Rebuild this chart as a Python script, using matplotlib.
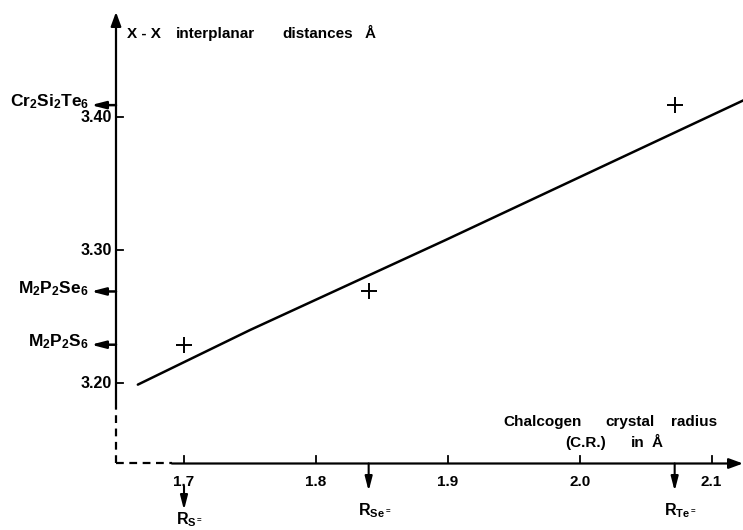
import matplotlib
matplotlib.use("Agg")
import matplotlib.pyplot as plt

# measured points: chalcogen crystal radius vs X-X interplanar distance
radius = [1.70, 1.840, 2.072]
distance = [3.229, 3.269, 3.409]
compounds = [r'$\mathregular{M_2P_2S_6}$', r'$\mathregular{M_2P_2Se_6}$', r'$\mathregular{Cr_2Si_2Te_6}$']
ions = [r'$\mathregular{R_{S^=}}$', r'$\mathregular{R_{Se^=}}$', r'$\mathregular{R_{Te^=}}$']

# fitted line
fit_x = [1.665, 1.75, 1.898, 2.026, 2.125]
fit_y = [3.199, 3.240, 3.3075, 3.367, 3.413]

xticks = [1.7, 1.8, 1.9, 2.0, 2.1]
yticks = [3.20, 3.30, 3.40]

ytitle = ['X - X', 'interplanar', 'distances', '\u00c5']
xtitle = ['Chalcogen', 'crystal', 'radius']
xtitle2 = ['(C.R.)', 'in', '\u00c5']

plt.rcParams['font.family'] = ['Liberation Sans', 'DejaVu Sans']
plt.rcParams['font.weight'] = 'bold'

fig = plt.figure(figsize=(7.43, 5.30), dpi=100)
ax = fig.add_axes([0, 0, 1, 1])
ax.axis('off')

# pixel -> data helpers (axes fill the figure)
def X(px):
    return 1.7 + (px - 184) / 1319.0

def Y(py):
    return 3.20 + (383.3 - py) / 1331.0

ax.set_xlim(X(0), X(743))
ax.set_ylim(Y(530), Y(0))

x0, y0 = X(116), Y(463.5)
lw = 1.6
head = '-|>,head_length=0.6,head_width=0.22'
small = '-|>,head_length=0.85,head_width=0.22'

# axes: dashed near origin, solid elsewhere, arrow heads
ax.plot([x0, x0], [y0, Y(407)], color='k', lw=lw, ls=(0, (3.5, 2.5)))
ax.plot([x0, X(172)], [y0, y0], color='k', lw=lw, ls=(0, (3.5, 2.5)))
ax.annotate('', xy=(x0, Y(12)), xytext=(x0, Y(407)),
            arrowprops=dict(arrowstyle=head, color='k', lw=lw, mutation_scale=14, shrinkA=0, shrinkB=0))
ax.annotate('', xy=(X(743), y0), xytext=(X(172), y0),
            arrowprops=dict(arrowstyle=head, color='k', lw=lw, mutation_scale=14, shrinkA=0, shrinkB=0))

# ticks
for t in xticks:
    ax.plot([t, t], [y0, y0 + 7 / 1331.0], color='k', lw=1.3)
    ax.text(t, Y(482), '%.1f' % t, ha='center', va='center', fontsize=11)
for t in yticks:
    ax.plot([x0, x0 + 7 / 1319.0], [t, t], color='k', lw=1.3)
    ax.text(X(112), t, '%.2f' % t, ha='right', va='center', fontsize=11.5)

# data and fit
ax.plot(fit_x, fit_y, color='k', lw=1.8, solid_capstyle='round')
ax.plot(radius, distance, ls='none', marker='+', ms=11, mew=1.4, color='k')

# compound arrows on y axis
for d, name in zip(distance, compounds):
    ax.annotate('', xy=(X(91), d), xytext=(x0, d),
                arrowprops=dict(arrowstyle=small, color='k', lw=1.8, mutation_scale=10,
                                shrinkA=0, shrinkB=0))
    ax.text(X(89), d + 3 / 1331.0, name, ha='right', va='center', fontsize=12.5)

# ion radius arrows below x axis
for i, (r, name) in enumerate(zip(radius, ions)):
    top = Y(486) if i == 0 else y0
    bot = Y(510) if i == 0 else Y(491)
    ax.annotate('', xy=(r, bot), xytext=(r, top),
                arrowprops=dict(arrowstyle=small, color='k', lw=1.5, mutation_scale=10,
                                shrinkA=0, shrinkB=0))
    ax.text(r + 6 / 1319.0, Y(520) if i == 0 else Y(511), name,
            ha='center', va='center', fontsize=11.5)

# axis titles, word by word (the original is widely tracked)
for w, px in zip(ytitle, [144, 215, 318, 370]):
    ax.text(X(px), Y(34), w, ha='center', va='center', fontsize=11)
for w, px in zip(xtitle, [543, 630, 694]):
    ax.text(X(px), Y(422), w, ha='center', va='center', fontsize=11)
for w, px in zip(xtitle2, [586, 638, 657]):
    ax.text(X(px), Y(443), w, ha='center', va='center', fontsize=11)

fig.savefig('out.png', dpi=100)
